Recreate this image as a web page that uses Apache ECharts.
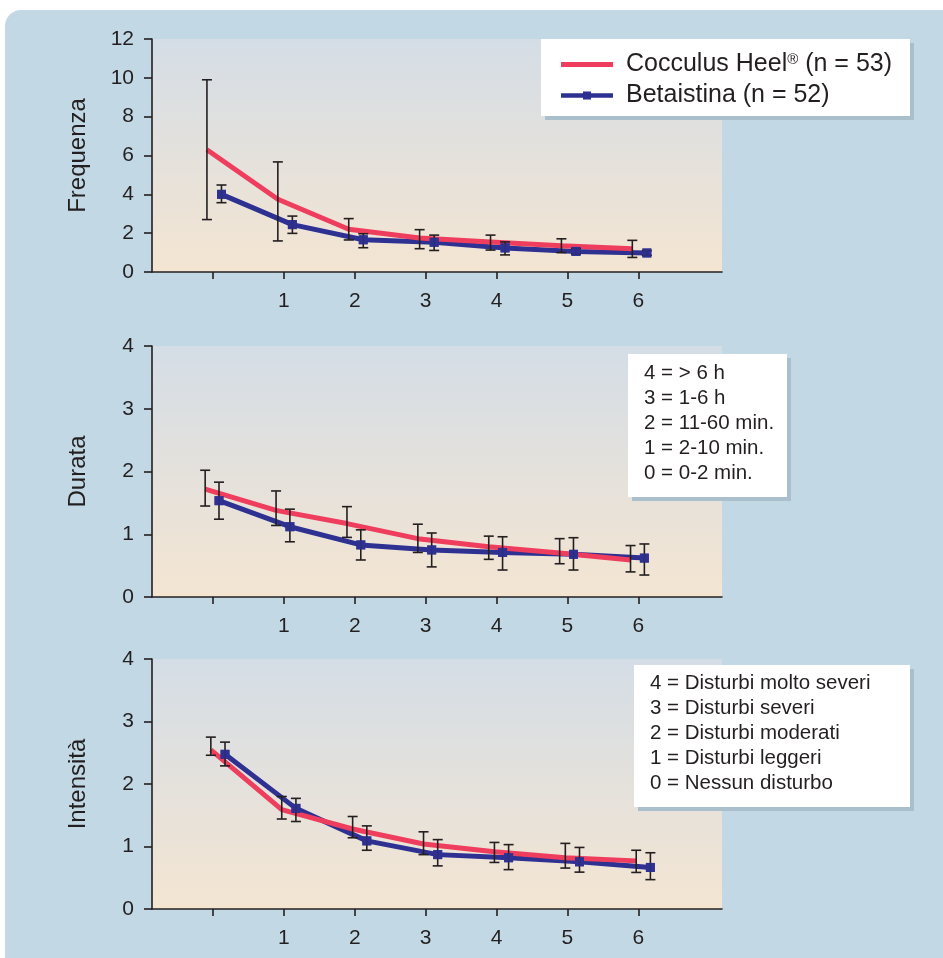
<!DOCTYPE html>
<html>
<head>
<meta charset="utf-8">
<script src="https://cdn.jsdelivr.net/npm/echarts@6/dist/echarts.min.js"></script>
<style>
  html, body { margin: 0; padding: 0; background: #fff; }
  #chart { width: 943px; height: 958px; }
</style>
</head>
<body>
<div id="chart"></div>
<script>
// visit index on the x axis (0 = baseline, unlabeled)
const visits = [0, 1, 2, 3, 4, 5, 6];
const tickValues = [0, 1, 2, 3, 4, 5, 6];
const labelValues = [1, 2, 3, 4, 5, 6];

const cocName = "Cocculus Heel® (n = 53)";
const betName = "Betaistina (n = 52)";

// Frequenza
const cocFreq = [6.3, 3.75, 2.2, 1.75, 1.55, 1.35, 1.2];
const cocFreqLow = [2.7, 1.6, 1.65, 1.2, 1.13, 1.0, 0.75];
const cocFreqHigh = [9.9, 5.67, 2.75, 2.18, 1.9, 1.71, 1.63];
const betFreq = [4.0, 2.44, 1.66, 1.53, 1.24, 1.06, 0.98];
const betFreqLow = [3.57, 1.99, 1.25, 1.11, 0.88, 0.92, 0.86];
const betFreqHigh = [4.48, 2.88, 1.97, 1.9, 1.55, 1.2, 1.1];

// Durata
const cocDur = [1.72, 1.38, 1.17, 0.93, 0.8, 0.7, 0.59];
const cocDurLow = [1.45, 1.14, 0.95, 0.71, 0.6, 0.53, 0.4];
const cocDurHigh = [2.02, 1.69, 1.44, 1.16, 0.97, 0.93, 0.82];
const betDur = [1.535, 1.12, 0.83, 0.75, 0.71, 0.68, 0.62];
const betDurLow = [1.24, 0.88, 0.59, 0.48, 0.43, 0.43, 0.35];
const betDurHigh = [1.83, 1.4, 1.07, 1.02, 0.96, 0.945, 0.845];

// Intensita
const cocInt = [2.545, 1.59, 1.28, 1.04, 0.915, 0.82, 0.77];
const cocIntLow = [2.46, 1.44, 1.14, 0.87, 0.745, 0.655, 0.585];
const cocIntHigh = [2.75, 1.8, 1.48, 1.235, 1.065, 1.05, 0.94];
const betInt = [2.475, 1.61, 1.09, 0.87, 0.82, 0.755, 0.665];
const betIntLow = [2.29, 1.4, 0.94, 0.69, 0.63, 0.59, 0.47];
const betIntHigh = [2.67, 1.77, 1.33, 1.11, 1.03, 0.985, 0.9];

// small horizontal shift of each group around the visit (x units)
const cocShift = [-0.085, -0.11, -0.03];
const betShift = [0.12, 0.085, 0.17];

const durataKey = ["4 = > 6 h", "3 = 1-6 h", "2 = 11-60 min.", "1 = 2-10 min.", "0 = 0-2 min."];
const intensitaKey = ["4 = Disturbi molto severi", "3 = Disturbi severi", "2 = Disturbi moderati", "1 = Disturbi leggeri", "0 = Nessun disturbo"];

const ink = "#231f20";
const red = "#ef3d5e";
const blue = "#2e3192";
const font = "Liberation Sans, Arial, Helvetica, sans-serif";

const panels = [
  { name: "Frequenza", max: 12, interval: 2, coc: [cocFreq, cocFreqLow, cocFreqHigh], bet: [betFreq, betFreqLow, betFreqHigh] },
  { name: "Durata", max: 4, interval: 1, coc: [cocDur, cocDurLow, cocDurHigh], bet: [betDur, betDurLow, betDurHigh] },
  { name: "Intensità", max: 4, interval: 1, coc: [cocInt, cocIntLow, cocIntHigh], bet: [betInt, betIntLow, betIntHigh] }
];

const gridBoxes = [
  { top: 39, height: 233 },
  { top: 346, height: 251 },
  { top: 659, height: 250 }
];

const plotFill = {
  type: "linear", x: 0, y: 0, x2: 0, y2: 1,
  colorStops: [{ offset: 0, color: "#d4dde6" }, { offset: 1, color: "#f4e5d2" }]
};

// legend glyphs: thick bar (red), bar with square marker (blue)
const redIcon = "path://M0,0 L52,0 L0,0 Z M0,2.5 L52,2.5 L52,7.5 L0,7.5 Z M0,10 L52,10 L0,10 Z";
const blueIcon = "path://M0,2.75 L22,2.75 L22,1 L30,1 L30,2.75 L52,2.75 L52,7.25 L30,7.25 L30,9 L22,9 L22,7.25 L0,7.25 Z M0,0 L52,0 L0,0 Z M0,10 L52,10 L0,10 Z";

const chart = echarts.init(document.getElementById("chart"));

function errorBars(low, high, shift, idx) {
  return {
    type: "custom",
    xAxisIndex: idx,
    yAxisIndex: idx,
    z: 3,
    silent: true,
    encode: { x: 0, y: [1, 2] },
    data: visits.map((v, i) => [v + shift, low[i], high[i]]),
    renderItem: (params, api) => {
      const x = api.value(0);
      const top = api.coord([x, api.value(2)]);
      const bot = api.coord([x, api.value(1)]);
      const w = 5;
      const st = { stroke: ink, lineWidth: 1.6 };
      return {
        type: "group",
        children: [
          { type: "line", shape: { x1: top[0], y1: top[1], x2: bot[0], y2: bot[1] }, style: st },
          { type: "line", shape: { x1: top[0] - w, y1: top[1], x2: top[0] + w, y2: top[1] }, style: st },
          { type: "line", shape: { x1: bot[0] - w, y1: bot[1], x2: bot[0] + w, y2: bot[1] }, style: st }
        ]
      };
    }
  };
}

const series = [];
panels.forEach((p, idx) => {
  const cocPts = visits.map((v, i) => [v + cocShift[idx], p.coc[0][i]]);
  const betPts = visits.map((v, i) => [v + betShift[idx], p.bet[0][i]]);
  series.push({
    name: betName, type: "line", xAxisIndex: idx, yAxisIndex: idx, z: 2,
    data: betPts, symbol: "rect", symbolSize: 9, showSymbol: true,
    itemStyle: { color: blue }, lineStyle: { color: blue, width: 5 }, silent: true
  });
  series.push({
    name: cocName, type: "line", xAxisIndex: idx, yAxisIndex: idx, z: 2,
    data: cocPts, symbol: "none",
    itemStyle: { color: red }, lineStyle: { color: red, width: 5 }, silent: true
  });
  series.push(errorBars(p.coc[1], p.coc[2], cocShift[idx], idx));
  series.push(errorBars(p.bet[1], p.bet[2], betShift[idx], idx));
  // blue markers sit on top of the error bars
  series.push({
    type: "scatter", xAxisIndex: idx, yAxisIndex: idx, z: 4, silent: true,
    data: betPts, symbol: "rect", symbolSize: 9, itemStyle: { color: blue }
  });
});

function keyBox(x, y, w, h, lines, textY) {
  return [
    { type: "rect", z: 5, shape: { x: x + 4, y: y + 4, width: w, height: h }, style: { fill: "#a9bfcb" } },
    { type: "rect", z: 5, z2: 1, shape: { x: x, y: y, width: w, height: h }, style: { fill: "#ffffff" } },
    {
      type: "text", z: 5, z2: 2, x: x + 16, y: textY,
      style: { text: lines.join("\n"), font: "20.5px " + font, lineHeight: 25, fill: ink, verticalAlign: "top" }
    }
  ];
}

const option = {
  backgroundColor: "#ffffff",
  animation: false,
  textStyle: { fontFamily: font },
  graphic: {
    elements: [
      { type: "rect", z: -10, silent: true, shape: { x: 5, y: 10, width: 938, height: 948, r: [16, 0, 0, 0] }, style: { fill: "#c2d9e5" } },
      { type: "rect", z: 3, shape: { x: 545, y: 43, width: 369, height: 77 }, style: { fill: "#a9bfcb" } },
      { type: "rect", z: 3, z2: 1, shape: { x: 541, y: 39, width: 369, height: 77 }, style: { fill: "#ffffff" } }
    ].concat(
      keyBox(628, 354, 159, 143, durataKey, 361),
      keyBox(634, 665, 276, 142, intensitaKey, 671)
    )
  },
  legend: {
    data: [
      { name: cocName, icon: redIcon },
      { name: betName, icon: blueIcon }
    ],
    orient: "vertical",
    left: 541,
    top: 40,
    padding: [12, 12, 10, 20],
    itemWidth: 52,
    itemHeight: 10,
    itemGap: 6,
    z: 6,
    selectedMode: false,
    itemStyle: { borderWidth: 0 },
    lineStyle: { width: 0 },
    textStyle: {
      color: ink,
      fontSize: 25,
      padding: [0, 0, 0, 8],
      rich: {
        a: { fontSize: 25, color: ink },
        s: { fontSize: 15, color: ink, verticalAlign: "top", lineHeight: 14 }
      }
    },
    formatter: (name) => name === cocName
      ? "{a|Cocculus Heel}{s|®}{a| (n = 53)}"
      : "{a|" + name + "}"
  },
  grid: gridBoxes.map((g) => ({
    left: 152, width: 570, top: g.top, height: g.height,
    show: true, borderWidth: 0, backgroundColor: plotFill
  })),
  xAxis: gridBoxes.map((g, i) => ({
    type: "value",
    gridIndex: i,
    min: -0.86,
    max: 7.18,
    axisLine: { show: true, onZero: false, lineStyle: { color: ink, width: 1.6 } },
    axisTick: { show: true, customValues: tickValues, length: 7, lineStyle: { color: ink, width: 1.6 } },
    axisLabel: { customValues: labelValues, fontSize: 21, color: ink, margin: 19, fontFamily: font },
    splitLine: { show: false }
  })),
  yAxis: panels.map((p, i) => ({
    type: "value",
    gridIndex: i,
    min: 0,
    max: p.max,
    interval: p.interval,
    name: p.name,
    nameLocation: "middle",
    nameGap: 62,
    nameTextStyle: { fontSize: 24, color: ink, fontFamily: font },
    axisLine: { show: true, onZero: false, lineStyle: { color: ink, width: 1.6 } },
    axisTick: { show: true, length: 8, lineStyle: { color: ink, width: 1.6 } },
    axisLabel: { fontSize: 21, color: ink, margin: 18, fontFamily: font },
    splitLine: { show: false }
  })),
  series: series
};

chart.setOption(option);
</script>
</body>
</html>
